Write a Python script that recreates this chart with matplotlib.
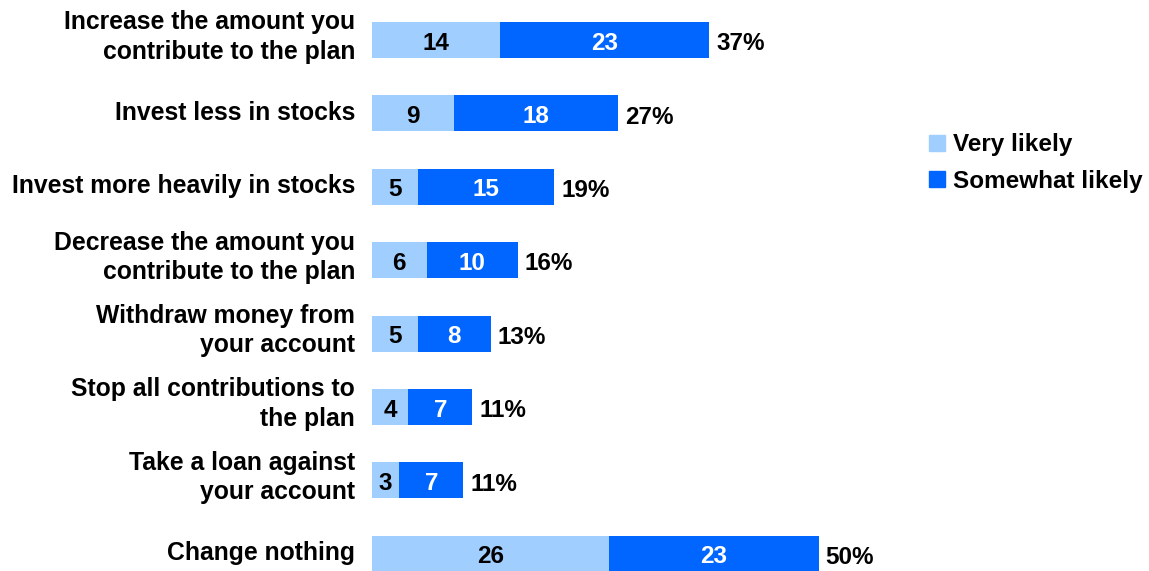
import numpy as np
import matplotlib.pyplot as plt
from matplotlib.patches import Patch

plt.rcParams['font.family'] = ['Liberation Sans', 'DejaVu Sans']
plt.rcParams['font.weight'] = 'bold'

# Likelihood of each action (percent of respondents)
actions = ["Increase the amount you\ncontribute to the plan",
           "Invest less in stocks",
           "Invest more heavily in stocks",
           "Decrease the amount you\ncontribute to the plan",
           "Withdraw money from\nyour account",
           "Stop all contributions to\nthe plan",
           "Take a loan against\nyour account",
           "Change nothing"]
very = [14, 9, 5, 6, 5, 4, 3, 26]
somewhat = [23, 18, 15, 10, 8, 7, 7, 23]
totals = ["37%", "27%", "19%", "16%", "13%", "11%", "11%", "50%"]

c_very = '#A0CFFF'
c_some = '#0066FF'

fig = plt.figure(figsize=(11.49, 5.71), dpi=100)
ax = fig.add_axes([372/1149, 0, 547/1149, 1])

y = np.arange(len(actions))
very = np.array(very)
somewhat = np.array(somewhat)

ax.barh(y, very, height=0.49, color=c_very)
ax.barh(y, somewhat, left=very, height=0.49, color=c_some)

fs = 17.5
nb = 0.13   # baseline shift for the numbers
for i in range(len(actions)):
    ax.text(very[i]/2, y[i] + nb, str(very[i]), ha='center', va='baseline',
            fontsize=fs, color='black', fontweight='bold')
    ax.text(very[i] + somewhat[i]/2, y[i] + nb, str(somewhat[i]), ha='center',
            va='baseline', fontsize=fs, color='white', fontweight='bold')
    ax.text(very[i] + somewhat[i] + 0.75, y[i] + nb + 0.01, totals[i], ha='left',
            va='baseline', fontsize=fs, color='black', fontweight='bold')
    off = -0.04 if '\n' in actions[i] else -0.01
    ax.text(-1.85, y[i] + off, actions[i], ha='right', va='center', fontsize=17.8,
            fontweight='bold', linespacing=1.28)

ax.set_xlim(0, 60)
ax.set_ylim(7.234, -0.545)
ax.axis('off')

handles = [Patch(color=c_very, label='Very likely'),
           Patch(color=c_some, label='Somewhat likely')]
fig.legend(handles=handles, loc='center left', bbox_to_anchor=(929/1149, 1 - 163/571),
           frameon=False, borderpad=0, borderaxespad=0, handlelength=0.67,
           handleheight=0.67, handletextpad=0.33, labelspacing=0.54,
           prop={'weight': 'bold', 'size': fs})

fig.savefig('out.png', dpi=100)
